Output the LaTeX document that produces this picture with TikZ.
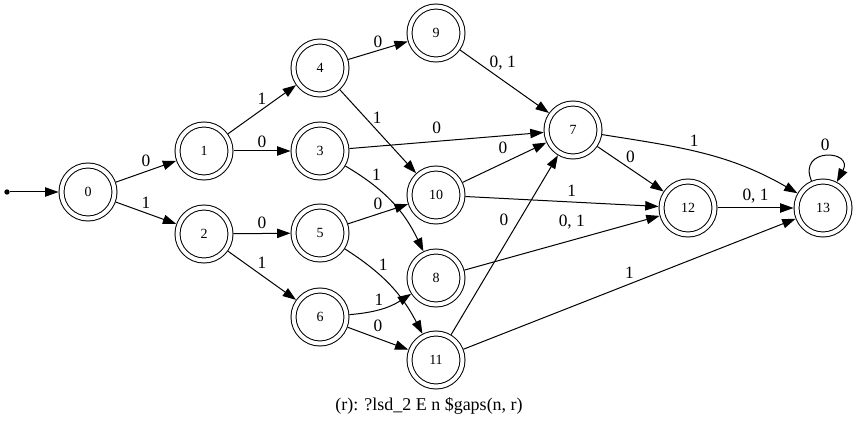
\documentclass[tikz,border=0pt]{standalone}
\usepackage{fontspec}
\setmainfont{Liberation Serif}
\usetikzlibrary{arrows.meta}

\begin{document}
\begin{tikzpicture}[x=0.75pt, y=0.75pt, line width=0.75pt,
    state/.style={circle, draw, double, double distance=3pt, minimum size=39.75pt,
        inner sep=0pt, outer sep=2.25pt, font=\fontsize{10.5}{12}\selectfont},
    lbl/.style={font=\fontsize{13}{15}\selectfont, inner sep=1pt},
    >={Triangle[length=10pt,width=7pt]}]
    \useasboundingbox (0,0) rectangle (859,-427);
    \foreach \n/\x/\y in {0/88/192, 1/204/151, 2/204/234, 3/320/151, 4/320/68,
        5/320/233, 6/320/317, 7/573/130, 8/436/278, 9/436/33, 10/436/195,
        11/436/360, 12/688/208, 13/823/208}
        \node[state] (s\n) at (\x,-\y) {\n};
    \node[circle, fill, inner sep=0pt, minimum size=4pt] (init) at (7,-192) {};
    \draw[->] (init) -- (s0);
    \draw[->] (s0) -- node[lbl, above=2pt] {0} (s1);
    \draw[->] (s0) -- node[lbl, above=2pt] {1} (s2);
    \draw[->] (s1) -- node[lbl, above=2pt] {1} (s4);
    \draw[->] (s1) -- node[lbl, above=1pt] {0} (s3);
    \draw[->] (s2) -- node[lbl, above=2pt] {0} (s5);
    \draw[->] (s2) -- node[lbl, above=4pt] {1} (s6);
    \draw[->] (s4) -- node[lbl, above=0.5pt] {0} (s9);
    \draw[->] (s4) -- node[lbl, pos=.34, right=4pt] {1} (s10);
    \draw[->] (s3) -- node[lbl, pos=.45, above=4pt] {0} (s7);
    \draw[->] (s3) to[bend left=17] node[lbl, pos=.24, above right=0pt] {1} (s8);
    \draw[->] (s5) -- node[lbl, above=2pt] {0} (s10);
    \draw[->] (s5) to[bend left=15] node[lbl, pos=.33, above right=0pt] {1} (s11);
    \draw[->] (s6) to[bend right=14] node[lbl, pos=.45, above=2pt] {1} (s8);
    \draw[->] (s6) -- node[lbl, above=4pt] {0} (s11);
    \draw[->] (s9) -- node[lbl, pos=.48, above=6pt] {0, 1} (s7);
    \draw[->] (s10) -- node[lbl, pos=.48, above=6pt] {0} (s7);
    \draw[->] (s10) -- node[lbl, pos=.55, above=3pt] {1} (s12);
    \draw[->] (s8) -- node[lbl, pos=.55, above=7pt] {0, 1} (s12);
    \draw[->] (s11) -- node[lbl, pos=.64, left=7pt] {0} (s7);
    \draw[->] (s11) -- node[lbl, above=3pt] {1} (s13);
    \draw[->] (s7) -- node[lbl, above=3pt] {0} (s12);
    \draw[->] (s7) to[out=-9, in=150] node[lbl, pos=.45, above=2pt] {1} (s13);
    \draw[->] (s12) -- node[lbl, above=2pt] {0, 1} (s13);
    \draw[->] (s13) to[out=113, in=62, looseness=3.7] node[lbl, above=3pt] {0} (s13);
    \node[font=\fontsize{13.5}{16}\selectfont] (caption) at (429,-406) {(r): ?lsd\_2 E n \$gaps(n, r)};
\end{tikzpicture}
\end{document}
